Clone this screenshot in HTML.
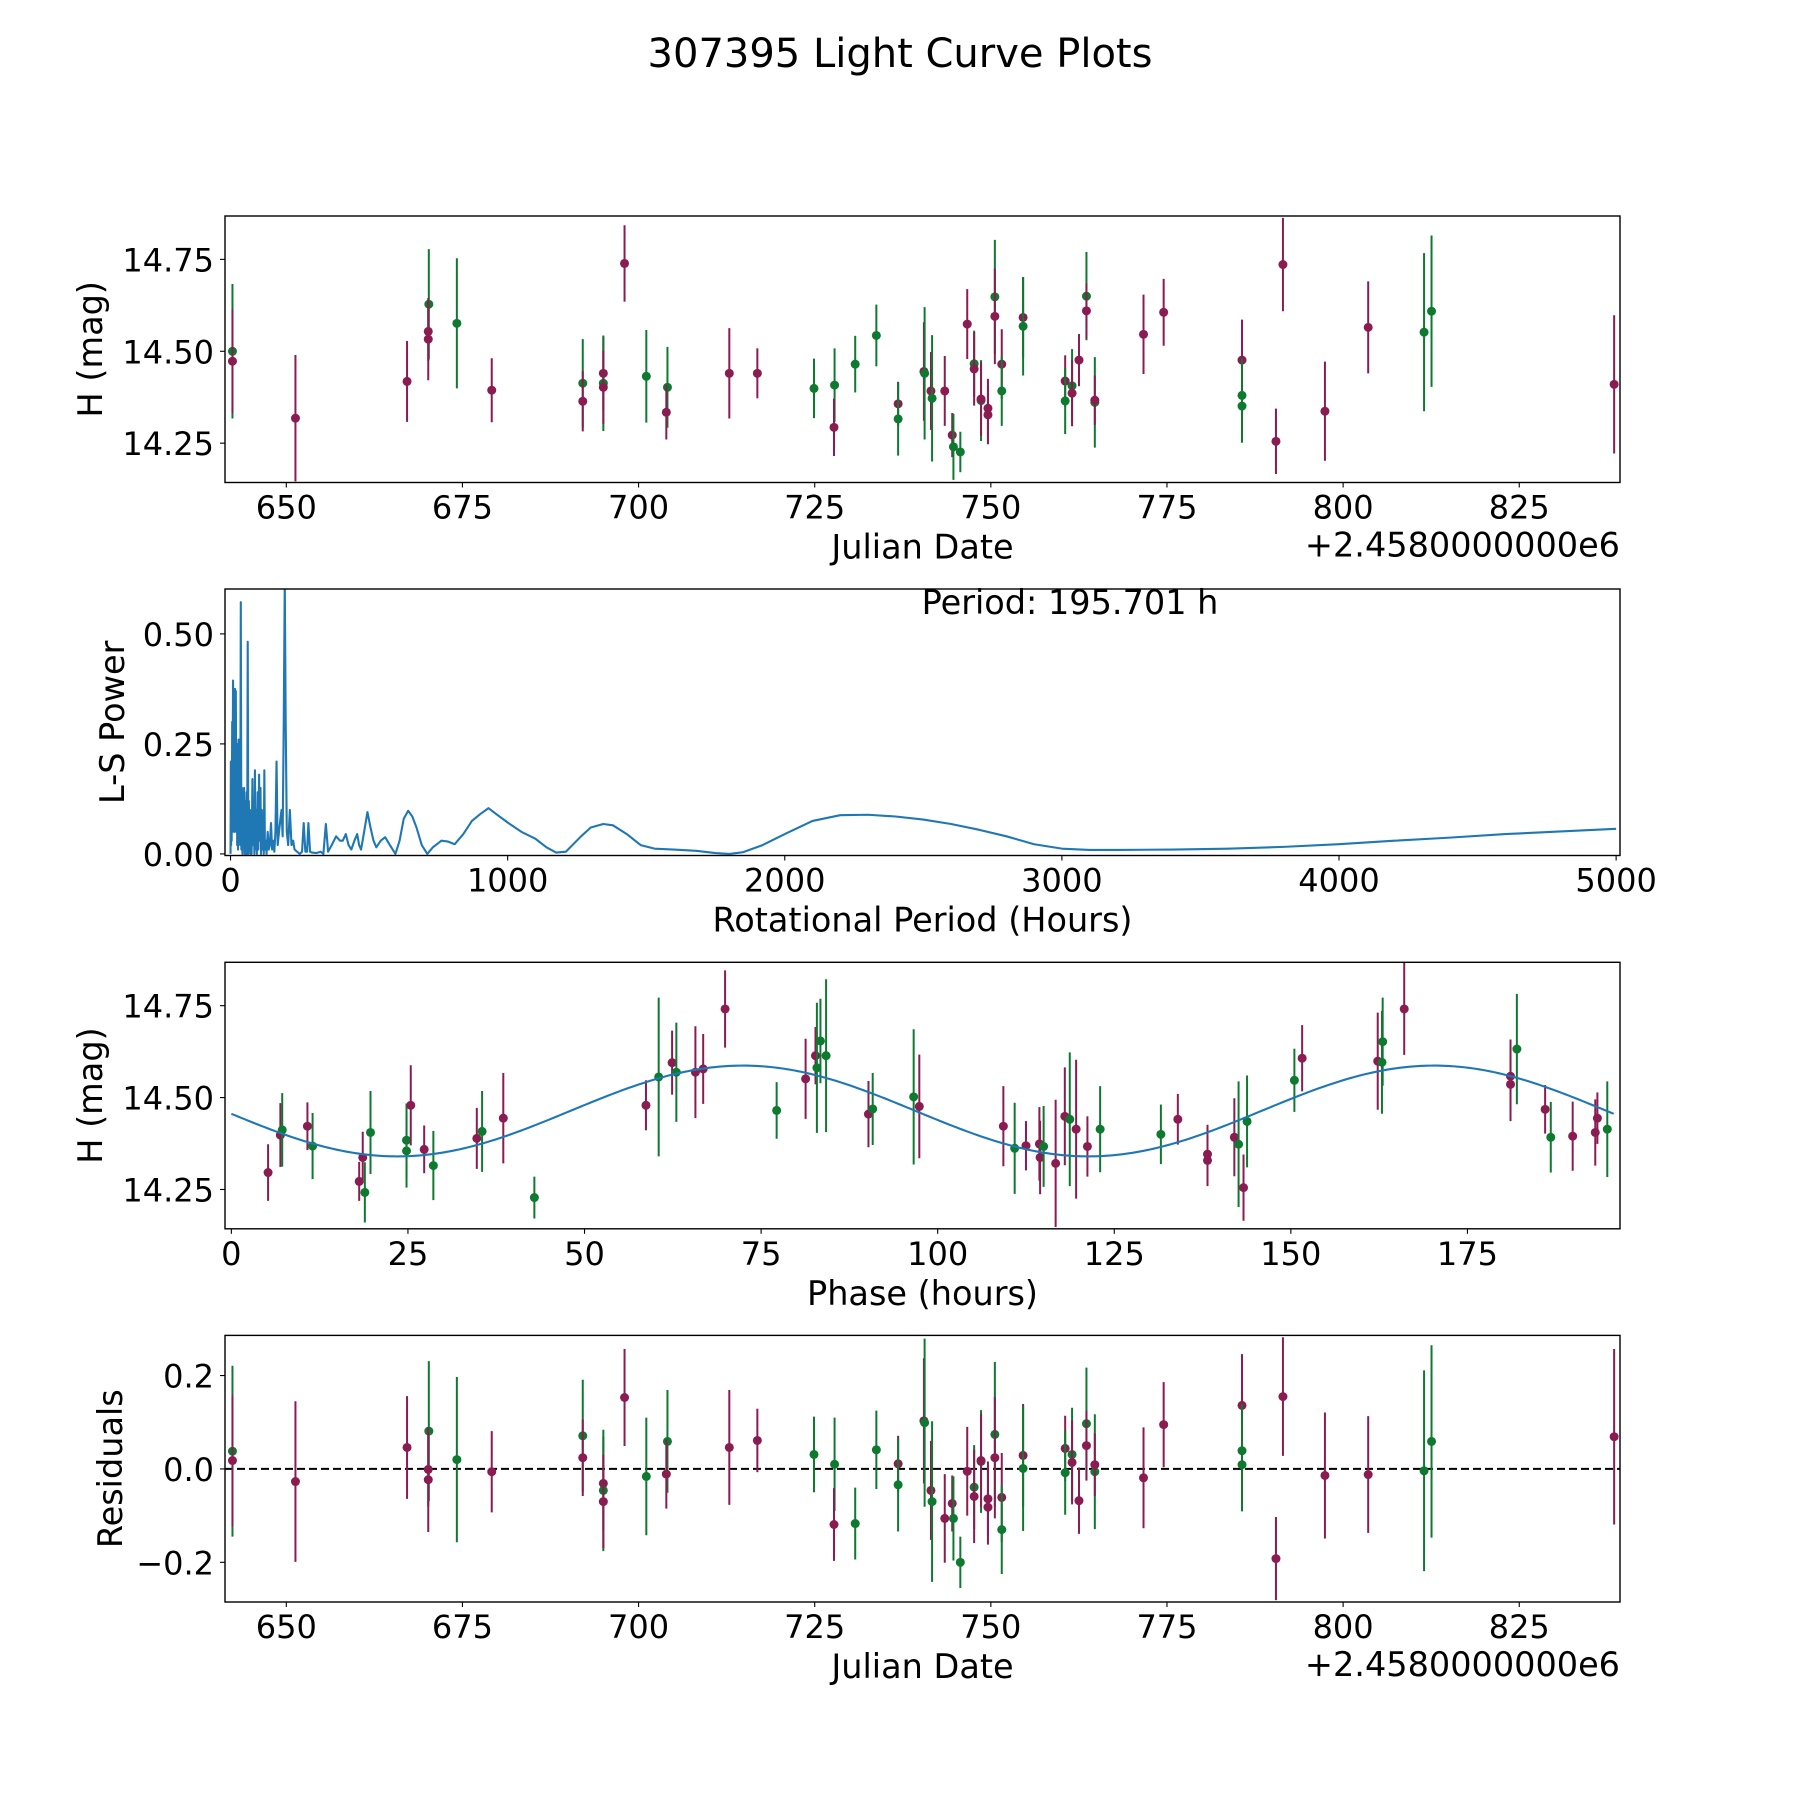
<!DOCTYPE html>
<html><head><meta charset="utf-8">
<style>
html,body{margin:0;padding:0;background:#fff;}
svg text{font-family:"DejaVu Sans","Liberation Sans",sans-serif;fill:#000;}
</style></head>
<body>
<svg id="fig" xmlns="http://www.w3.org/2000/svg" width="1800" height="1800" viewBox="0 0 1800 1800">
<rect x="0" y="0" width="1800" height="1800" fill="#fff"/>
<text x="900" y="67" font-size="40" text-anchor="middle">307395 Light Curve Plots</text>
</svg>
<script>
// ---- observation data (plot 1 & 4) ----
const obsJd = [642.36,642.36,651.3,667.14,670.23,670.15,670.15,674.21,679.16,692.08,692.08,695.0,695.0,695.0,698.01,701.1,704.1,703.94,712.88,716.86,724.9,727.82,727.74,730.75,733.75,736.84,736.84,740.5,740.6,741.5,741.66,743.46,744.52,744.69,745.67,746.65,747.63,747.63,748.61,748.61,749.59,749.59,750.57,750.57,751.55,751.55,754.58,754.58,760.55,760.55,761.53,761.53,762.51,763.57,763.57,764.76,764.76,771.67,774.53,785.65,785.65,785.65,790.47,791.46,797.42,803.56,811.49,812.55,838.47];
const obsMag = [14.500,14.473,14.318,14.418,14.628,14.554,14.533,14.576,14.394,14.413,14.364,14.44,14.413,14.402,14.739,14.432,14.402,14.334,14.44,14.44,14.399,14.408,14.293,14.465,14.543,14.357,14.316,14.445,14.44,14.392,14.372,14.392,14.272,14.24,14.226,14.574,14.466,14.452,14.366,14.37,14.345,14.327,14.648,14.595,14.465,14.392,14.592,14.568,14.419,14.365,14.406,14.386,14.476,14.65,14.61,14.361,14.367,14.546,14.606,14.476,14.38,14.351,14.255,14.736,14.337,14.565,14.552,14.609,14.41];
const obsErr = [0.183,0.141,0.172,0.11,0.15,0.08,0.112,0.177,0.087,0.12,0.082,0.1,0.13,0.1,0.104,0.126,0.11,0.074,0.123,0.068,0.081,0.1,0.078,0.077,0.084,0.06,0.1,0.134,0.18,0.106,0.172,0.095,0.06,0.09,0.055,0.095,0.09,0.1,0.11,0.1,0.08,0.08,0.155,0.13,0.095,0.095,0.11,0.134,0.07,0.09,0.1,0.09,0.071,0.12,0.075,0.123,0.067,0.108,0.091,0.11,0.1,0.1,0.089,0.127,0.135,0.125,0.215,0.206,0.188];
const obsBand = ['g','p','p','p','g','p','p','g','p','g','p','p','g','p','p','g','g','p','p','p','g','g','p','g','g','p','g','p','g','p','g','p','p','g','g','p','g','p','g','p','p','p','g','p','p','g','p','g','p','g','g','p','p','g','p','g','p','p','p','p','g','g','p','p','p','p','g','g','p'];
const obsResid = [0.038,0.018,-0.027,0.046,0.081,-0.001,-0.023,0.02,-0.006,0.071,0.024,-0.031,-0.046,-0.07,0.153,-0.016,0.059,-0.011,0.046,0.061,0.031,0.01,-0.119,-0.117,0.041,0.011,-0.034,0.103,0.099,-0.046,-0.07,-0.106,-0.074,-0.106,-0.2,-0.005,-0.039,-0.059,0.016,0.018,-0.064,-0.082,0.074,0.024,-0.061,-0.13,0.029,0.001,0.044,-0.008,0.031,0.014,-0.068,0.097,0.05,-0.006,0.009,-0.019,0.095,0.136,0.039,0.009,-0.192,0.155,-0.014,-0.012,-0.004,0.059,0.069];
// ---- phase-folded data (plot 3) ----
const phPhase = [5.2,6.94,7.2,10.77,11.5,18.1,18.6,18.9,19.7,24.8,24.8,25.4,27.3,28.6,34.75,35.5,38.5,42.9,58.7,60.5,62.4,63.0,65.7,66.8,69.9,77.2,81.3,82.7,82.9,83.4,84.2,90.2,90.8,96.6,97.4,109.3,110.9,112.5,114.4,114.5,115.0,116.7,118.0,118.7,119.6,121.2,123.0,131.6,134.0,138.2,138.2,142.0,142.6,143.8,143.3,150.5,151.6,162.3,162.9,163.0,166.05,181.1,181.1,182.0,186.0,186.8,189.9,193.1,193.4,194.8];
const phMag = [14.296,14.398,14.412,14.422,14.368,14.272,14.337,14.242,14.405,14.384,14.355,14.479,14.359,14.315,14.389,14.408,14.444,14.228,14.479,14.556,14.595,14.569,14.569,14.578,14.741,14.465,14.551,14.614,14.581,14.654,14.614,14.455,14.469,14.502,14.476,14.422,14.362,14.369,14.374,14.337,14.367,14.321,14.449,14.441,14.414,14.367,14.414,14.4,14.441,14.346,14.329,14.392,14.373,14.435,14.255,14.547,14.607,14.599,14.596,14.652,14.741,14.558,14.536,14.632,14.468,14.392,14.395,14.405,14.444,14.414];
const phErr = [0.077,0.087,0.1,0.065,0.09,0.053,0.07,0.082,0.113,0.1,0.1,0.109,0.065,0.094,0.083,0.11,0.123,0.057,0.068,0.216,0.087,0.135,0.125,0.095,0.105,0.077,0.109,0.078,0.177,0.115,0.208,0.09,0.098,0.184,0.141,0.109,0.124,0.067,0.1,0.1,0.11,0.173,0.133,0.182,0.189,0.082,0.117,0.081,0.069,0.08,0.07,0.106,0.171,0.125,0.09,0.086,0.09,0.132,0.14,0.12,0.125,0.1,0.1,0.15,0.066,0.096,0.094,0.09,0.07,0.13];
const phBand = ['p','p','g','p','g','p','p','g','g','g','g','p','p','g','p','g','p','g','p','g','p','g','p','p','p','g','p','p','g','g','g','p','g','g','p','p','g','p','p','p','g','p','p','g','p','p','g','g','p','p','p','p','g','g','p','g','p','p','g','g','p','p','p','g','p','g','p','p','p','g'];
// ---- sinusoidal fit parameters ----
const fitMean = [14.4635];
const fitAmp = [0.1235];
const fitMinPhase = [23.5];
const fitPeriod = [97.85];
const foldPeriod = [195.701];
// ---- periodogram (plot 2) ----
const lsPeriod = [0,1.2,2,3,4,6,7,9,11,13,14,16,17,19,21,23,24,26,27,29,31,33,35,37,39,41,43,45,47,49,51,53,55,58,60,62,64,66,68,70,72,74,76,79,81,84,86,88,90,93,95,98,100,103,105,108,110,113,115,118,120,122,124,127,130,134,138,142,146,150,154,158,162,166,170,175,180,184,188,192,195.7,199,203,208,214,220,226,231,240,250,258,264,270,276,281,287,295,310,325,335,344,352,365,381,395,405,416,426,436,447,457,464,471,482,494,505,516,526,542,558,575,595,610,625,641,656,671,690,710,730,761,785,809,840,871,900,931,960,1003,1050,1099,1140,1175,1210,1265,1300,1345,1380,1430,1480,1530,1600,1680,1750,1800,1850,1920,2000,2100,2200,2300,2400,2500,2600,2700,2800,2900,3000,3100,3200,3400,3600,3800,4000,4200,4400,4600,4800,5000];
const lsPower = [0,0.21,0.02,0.16,0.03,0.3,0.05,0.394,0.1,0.3,0.05,0.375,0.1,0.37,0.05,0.25,0.02,0.2,0.01,0.26,0.03,0.22,0.02,0.572,0.01,0.15,0.0,0.14,0.02,0.15,0.0,0.12,0.0,0.14,0.0,0.482,0.0,0.12,0.02,0.1,0.0,0.08,0.0,0.17,0.02,0.12,0.0,0.19,0.01,0.1,0.0,0.14,0.01,0.18,0.03,0.15,0.0,0.1,0.01,0.05,0.0,0.19,0.01,0.03,0.0,0.05,0.01,0.02,0.07,0.01,0.03,0.005,0.05,0.21,0.02,0.05,0.08,0.1,0.04,0.3,0.62,0.3,0.05,0.02,0.1,0.02,0.03,0.01,0.005,0.0,0.005,0.07,0.005,0.005,0.07,0.005,0.003,0.002,0.005,0.0,0.068,0.005,0.02,0.04,0.03,0.03,0.045,0.02,0.01,0.03,0.045,0.02,0.01,0.05,0.095,0.06,0.03,0.015,0.03,0.038,0.02,0.0,0.03,0.08,0.098,0.085,0.06,0.02,0.0,0.015,0.03,0.028,0.022,0.045,0.075,0.09,0.104,0.09,0.07,0.05,0.035,0.015,0.003,0.005,0.04,0.06,0.068,0.065,0.045,0.02,0.012,0.01,0.007,0.002,0.0,0.004,0.02,0.045,0.075,0.088,0.089,0.085,0.078,0.068,0.055,0.04,0.022,0.012,0.009,0.009,0.01,0.012,0.016,0.022,0.03,0.037,0.045,0.051,0.057];
// ---- tick labels ----
const jdTicks = [650,675,700,725,750,775,800,825];
const magTicks = [14.25,14.50,14.75];
const magTickLabels = ['14.25','14.50','14.75'];
const lsXTicks = [0,1000,2000,3000,4000,5000];
const lsYTicks = [0,0.25,0.5];
const lsYTickLabels = ['0.00','0.25','0.50'];
const phTicks = [0,25,50,75,100,125,150,175];
const resTicks = [-0.2,0,0.2];
const resTickLabels = ['\u22120.2','0.0','0.2'];

const NS = 'http://www.w3.org/2000/svg';
const svg = document.getElementById('fig');
const COL = {p:'#8a1c52', g:'#0e7a30'};
const L = 225, R = 1620;
const TFS = 32, LFS = 33.5;
function mk(tag, attrs, parent){
  const e = document.createElementNS(NS, tag);
  for (const k in attrs) e.setAttribute(k, attrs[k]);
  (parent||svg).appendChild(e);
  return e;
}
function lin(d0,d1,r0,r1){ return v => r0 + (v-d0)/(d1-d0)*(r1-r0); }

function makeAxes(name, top, bottom, xd, yd){
  const g = mk('g', {});
  
  
  const cid = 'clip-' + name;
  const cp = mk('clipPath', {id: cid}, g);
  mk('rect', {x:L, y:top, width:R-L, height:bottom-top}, cp);
  const marks = mk('g', {'clip-path':'url(#'+cid+')'}, g);
  
  
  return {g, marks, top, bottom, x: lin(xd[0],xd[1],L,R), y: lin(yd[0],yd[1],bottom,top)};
}
function frame(ax){
  const f = mk('rect', {x:L, y:ax.top, width:R-L, height:ax.bottom-ax.top, fill:'none', stroke:'#000', 'stroke-width':1.4}, ax.g);
  
  
}
function xTicks(ax, vals, labels){
  vals.forEach((v,i) => {
    const px = ax.x(v);
    mk('line', {x1:px, x2:px, y1:ax.bottom, y2:ax.bottom+5, stroke:'#000', 'stroke-width':1.1}, ax.g);
    const t = mk('text', {x:px, y:ax.bottom+36, 'font-size':TFS, 'text-anchor':'middle'}, ax.g);
    
    
    t.textContent = labels ? labels[i] : String(v);
  });
}
function yTicks(ax, vals, labels){
  vals.forEach((v,i) => {
    const py = ax.y(v);
    mk('line', {x1:L-5, x2:L, y1:py, y2:py, stroke:'#000', 'stroke-width':1.1}, ax.g);
    const t = mk('text', {x:L-11, y:py+12, 'font-size':TFS, 'text-anchor':'end'}, ax.g);
    
    
    t.textContent = labels[i];
  });
}
function label(ax, txt, kind, pos, name){
  let t;
  if (kind === 'x') {
    t = mk('text', {x:(L+R)/2, y:ax.bottom+76, 'font-size':LFS, 'text-anchor':'middle'}, ax.g);
  } else {
    const cy = (ax.top+ax.bottom)/2;
    t = mk('text', {x:pos, y:cy, 'font-size':LFS, 'text-anchor':'middle', transform:'rotate(-90 '+pos+' '+cy+')'}, ax.g);
  }
  
  
  t.textContent = txt;
}
function offsetText(ax){
  const t = mk('text', {x:R, y:ax.bottom+74, 'font-size':LFS, 'text-anchor':'end'}, ax.g);
  
  
  t.textContent = '+2.4580000000e6';
}
function errPoint(ax, xv, yv, ev, band){
  const c = COL[band];
  const px = ax.x(xv);
  const ln = mk('line', {x1:px, x2:px, y1:ax.y(yv-ev), y2:ax.y(yv+ev), stroke:c, 'stroke-width':2}, ax.marks);
  
  
  const dot = mk('circle', {cx:px, cy:ax.y(yv), r:4.5, fill:c}, ax.marks);
  
  
}

// ---- Plot 1: light curve ----
const jdDom = [641.3, 839.3];
const magDom = [14.143, 14.868];
const ax1 = makeAxes('light-curve-plot', 216, 482.5, jdDom, magDom);
obsJd.forEach((j,i) => errPoint(ax1, j, obsMag[i], obsErr[i], obsBand[i]));
frame(ax1); xTicks(ax1, jdTicks); yTicks(ax1, magTicks, magTickLabels);
label(ax1, 'Julian Date', 'x', 0, 'x-axis-title');
label(ax1, 'H (mag)', 'y', 102, 'y-axis-title');
offsetText(ax1);

// ---- Plot 2: periodogram ----
const ax2 = makeAxes('periodogram-plot', 589, 855.5, [-20, 5014], [-0.0036, 0.602]);
const pts = lsPeriod.map((p,i) => ax2.x(p).toFixed(2)+','+ax2.y(lsPower[i]).toFixed(2)).join(' ');
const pl = mk('polyline', {points:pts, fill:'none', stroke:'#1f77b4', 'stroke-width':2.1, 'stroke-linejoin':'round'}, ax2.marks);


frame(ax2); xTicks(ax2, lsXTicks); yTicks(ax2, lsYTicks, lsYTickLabels);
label(ax2, 'Rotational Period (Hours)', 'x', 0, 'x-axis-title');
label(ax2, 'L-S Power', 'y', 124, 'y-axis-title');
const pt = mk('text', {x:1070, y:614, 'font-size':LFS, 'text-anchor':'middle'}, ax2.g);


pt.textContent = 'Period: ' + foldPeriod[0].toFixed(3) + ' h';

// ---- Plot 3: phase folded ----
const ax3 = makeAxes('phase-plot', 962.3, 1228.8, [-0.9, 196.6], magDom);
const fitPts = [];
for (let k = 0; k <= 400; k++) {
  const ph = foldPeriod[0] * k / 400;
  const m = fitMean[0] - fitAmp[0]*Math.cos(2*Math.PI*(ph - fitMinPhase[0])/fitPeriod[0]);
  fitPts.push(ax3.x(ph).toFixed(2)+','+ax3.y(m).toFixed(2));
}
phPhase.forEach((p,i) => errPoint(ax3, p, phMag[i], phErr[i], phBand[i]));
const fl = mk('polyline', {points:fitPts.join(' '), fill:'none', stroke:'#1f77b4', 'stroke-width':2.1}, ax3.marks);


frame(ax3); xTicks(ax3, phTicks); yTicks(ax3, magTicks, magTickLabels);
label(ax3, 'Phase (hours)', 'x', 0, 'x-axis-title');
label(ax3, 'H (mag)', 'y', 102, 'y-axis-title');

// ---- Plot 4: residuals ----
const ax4 = makeAxes('residuals-plot', 1335.4, 1602, jdDom, [-0.285, 0.286]);
const zl = mk('line', {x1:L, x2:R, y1:ax4.y(0), y2:ax4.y(0), stroke:'#000', 'stroke-width':2, 'stroke-dasharray':'8,4'}, ax4.marks);


obsJd.forEach((j,i) => errPoint(ax4, j, obsResid[i], obsErr[i], obsBand[i]));
frame(ax4); xTicks(ax4, jdTicks); yTicks(ax4, resTicks, resTickLabels);
label(ax4, 'Julian Date', 'x', 0, 'x-axis-title');
label(ax4, 'Residuals', 'y', 122, 'y-axis-title');
offsetText(ax4);
</script>
</body></html>
